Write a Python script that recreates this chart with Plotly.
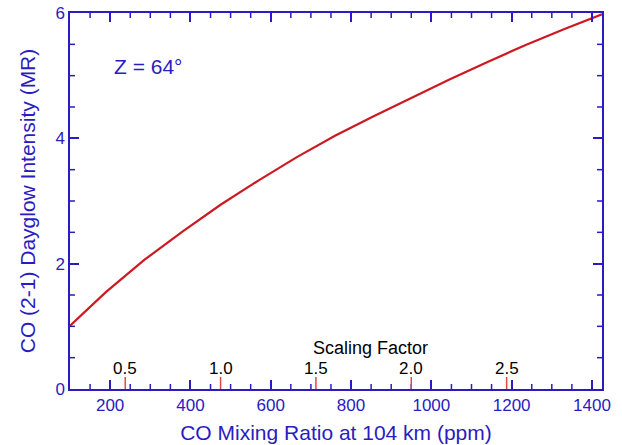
import plotly.graph_objects as go

# Data
scaling_factor_grid = [0.2, 0.4, 0.6, 0.8, 1.0, 1.2, 1.4, 1.6, 1.8, 2.0, 2.2, 2.4, 2.6, 2.8, 3.0]
intensity_mr = [0.98, 1.55, 2.06, 2.51, 2.94, 3.33, 3.70, 4.04, 4.35, 4.65, 4.94, 5.22, 5.49, 5.74, 5.98]
ppm_per_sf = 475.0
co_ppm = [s * ppm_per_sf for s in scaling_factor_grid]

sf_ticks = [0.5, 1.0, 1.5, 2.0, 2.5]
sf_labels = ["0.5", "1.0", "1.5", "2.0", "2.5"]

x_range = [100, 1425]
y_range = [0, 6]
x_major, x_minor = 200, 50
y_major, y_minor = 2, 0.5

BLUE = "#2a1cc0"
FONT = "Liberation Sans, Arial, sans-serif"

fig = go.Figure()
fig.add_trace(go.Scatter(x=co_ppm, y=intensity_mr, mode="lines",
                         line=dict(color="#cc1a22", width=2.2), showlegend=False,
                         hoverinfo="skip"))

# minor ticks (inside, all four sides), pixel-length
n = int(x_range[1] // x_minor)
x_minor_vals = [k * x_minor for k in range(n + 1)
                if x_range[0] < k * x_minor < x_range[1] and (k * x_minor) % x_major != 0]
m = int(round(y_range[1] / y_minor))
y_minor_vals = [k * y_minor for k in range(m + 1)
                if y_range[0] < k * y_minor < y_range[1] and abs((k * y_minor) / y_major - round((k * y_minor) / y_major)) > 1e-9]
tick_line = dict(color=BLUE, width=1.5)
for xv in x_minor_vals:
    fig.add_shape(type="line", xref="x", yref="paper", ysizemode="pixel", yanchor=0,
                  x0=xv, x1=xv, y0=0, y1=5, line=tick_line)
    fig.add_shape(type="line", xref="x", yref="paper", ysizemode="pixel", yanchor=1,
                  x0=xv, x1=xv, y0=0, y1=-5, line=tick_line)
for yv in y_minor_vals:
    fig.add_shape(type="line", xref="paper", yref="y", xsizemode="pixel", xanchor=0,
                  x0=0, x1=5, y0=yv, y1=yv, line=tick_line)
    fig.add_shape(type="line", xref="paper", yref="y", xsizemode="pixel", xanchor=1,
                  x0=0, x1=-5, y0=yv, y1=yv, line=tick_line)

# Scaling factor ticks (red) and labels
for s, lab in zip(sf_ticks, sf_labels):
    xv = s * ppm_per_sf
    fig.add_shape(type="line", xref="x", yref="paper", ysizemode="pixel", yanchor=0,
                  x0=xv, x1=xv, y0=0, y1=12, line=dict(color="#e04848", width=1.5))
    fig.add_annotation(x=xv, y=0.33, xref="x", yref="y", text=lab, showarrow=False,
                       font=dict(family=FONT, size=17, color="black"))
fig.add_annotation(x=848, y=0.65, xref="x", yref="y", text="Scaling Factor", showarrow=False,
                   font=dict(family=FONT, size=18, color="black"))
fig.add_annotation(x=296, y=5.14, xref="x", yref="y", text="Z = 64°", showarrow=False,
                   font=dict(family=FONT, size=21, color=BLUE))

axis_common = dict(showline=True, linecolor=BLUE, linewidth=1.5, mirror="allticks",
                   ticks="inside", tickcolor=BLUE, tickwidth=1.5, ticklen=9,
                   showgrid=False, zeroline=False, automargin=False,
                   tickfont=dict(family=FONT, size=17, color=BLUE))

fig.update_layout(
    xaxis=dict(range=x_range, tick0=0, dtick=x_major,
               title=dict(text="CO Mixing Ratio at 104 km (ppm)", standoff=11,
                          font=dict(family=FONT, size=21, color=BLUE)),
               **axis_common),
    yaxis=dict(range=y_range, tick0=0, dtick=y_major,
               title=dict(text="CO (2-1) Dayglow Intensity (MR)", standoff=14,
                          font=dict(family=FONT, size=21, color=BLUE)),
               **axis_common),
    width=622, height=445, margin=dict(l=70, r=20, t=13, b=56),
    paper_bgcolor="white", plot_bgcolor="white",
)

fig.write_html("out.html")
